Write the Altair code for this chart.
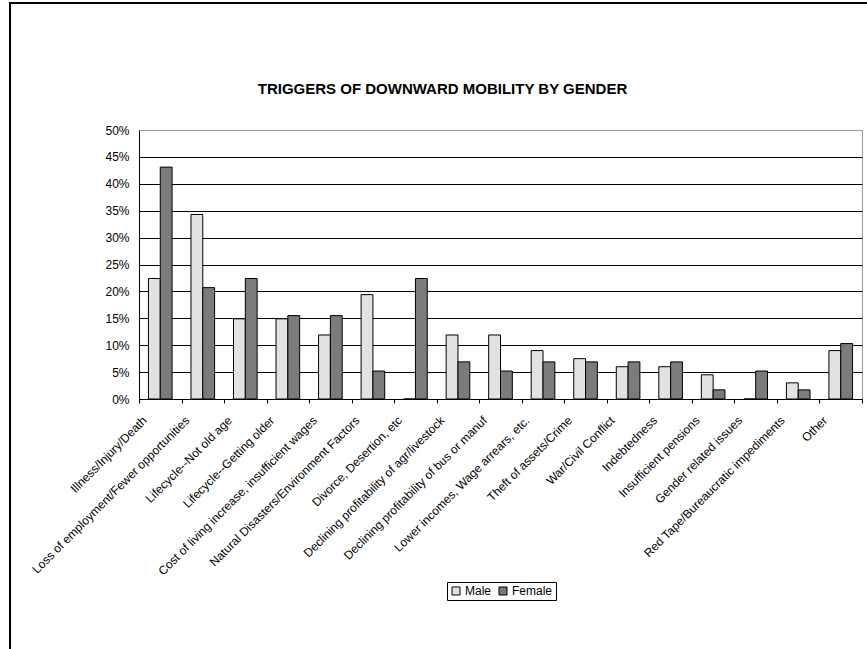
import altair as alt
import pandas as pd

# Triggers of downward mobility, share of respondents by gender (%)
categories = [
    "Illness/Injury/Death",
    "Loss of employment/Fewer opportunities",
    "Lifecycle--Not old age",
    "Lifecycle--Getting older",
    "Cost of living increase, insufficient wages",
    "Natural Disasters/Environment Factors",
    "Divorce, Desertion, etc",
    "Declining profitability of agr/livestock",
    "Declining profitability of bus or manuf",
    "Lower incomes, Wage arrears, etc.",
    "Theft of assets/Crime",
    "War/Civil Conflict",
    "Indebtedness",
    "Insufficient pensions",
    "Gender related issues",
    "Red Tape/Bureaucratic impediments",
    "Other",
]
male = [22.4, 34.3, 14.9, 14.9, 11.9, 19.4, 0.0, 11.9, 11.9, 9.0, 7.5, 6.0, 6.0, 4.5, 0.0, 3.0, 9.0]
female = [43.1, 20.7, 22.4, 15.5, 15.5, 5.2, 22.4, 6.9, 5.2, 6.9, 6.9, 6.9, 6.9, 1.7, 5.2, 1.7, 10.3]
genders = ["Male", "Female"]
y_ticks = [0, 5, 10, 15, 20, 25, 30, 35, 40, 45, 50]

rows = []
for cat, m, f in zip(categories, male, female):
    rows.append({"trigger": cat, "gender": "Male", "share": m / 100})
    rows.append({"trigger": cat, "gender": "Female", "share": f / 100})
df = pd.DataFrame(rows)

FONT = "Liberation Sans"

bars = alt.Chart(df).mark_bar(stroke="black", strokeWidth=1).encode(
    x=alt.X(
        "trigger:N",
        sort=categories,
        scale=alt.Scale(paddingInner=0, paddingOuter=0),
        axis=alt.Axis(
            title=None,
            labelAngle=-45,
            labelAlign="right",
            labelBaseline="middle",
            labelOffset=-16,
            labelPadding=15,
            labelLimit=400,
            labelFontSize=12,
            labelColor="black",
            tickBand="extent",
            tickSize=4,
            tickColor="black",
            domainColor="black",
            grid=False,
        ),
    ),
    xOffset=alt.XOffset(
        "gender:N",
        sort=genders,
        scale=alt.Scale(domain=genders, paddingInner=0, paddingOuter=0.8),
    ),
    y=alt.Y(
        "share:Q",
        scale=alt.Scale(domain=[0, 0.5], nice=False),
        axis=alt.Axis(
            title=None,
            values=[v / 100 for v in y_ticks],
            format=".0%",
            ticks=False,
            labelPadding=10,
            labelFontSize=12,
            labelColor="black",
            domainColor="black",
            gridColor={"condition": {"test": "datum.value >= 0.5", "value": "#999999"}, "value": "#000000"},
            gridWidth=1,
        ),
    ),
    color=alt.Color(
        "gender:N",
        sort=genders,
        scale=alt.Scale(domain=genders, range=["#e2e2e2", "#7b7b7b"]),
        legend=alt.Legend(
            title=None,
            orient="none",
            legendX=308,
            legendY=452,
            direction="horizontal",
            strokeColor="black",
            padding=3,
            symbolType="square",
            symbolSize=64,
            symbolStrokeColor="black",
            symbolStrokeWidth=1,
            symbolOpacity=1,
            labelFontSize=12,
            labelColor="black",
            columnPadding=5,
            labelOffset=3,
        ),
    ),
)

# outer frame of the figure panel
frame_top = alt.Chart(alt.Data(values=[{}])).mark_rule(color="black", strokeWidth=2).encode(
    x=alt.value(-130), x2=alt.value(730), y=alt.value(-127)
)
frame_left = alt.Chart(alt.Data(values=[{}])).mark_rule(color="black", strokeWidth=2).encode(
    x=alt.value(-129), y=alt.value(-128), y2=alt.value(520)
)

chart = (
    alt.layer(bars, frame_top, frame_left)
    .properties(
        width=723,
        height=269,
        autosize=alt.AutoSizeParams(type="none"),
        padding={"left": 139, "top": 130, "right": 5, "bottom": 250},
        background="white",
        title=alt.TitleParams(
            "TRIGGERS OF DOWNWARD MOBILITY BY GENDER",
            font=FONT,
            fontSize=15,
            fontWeight="bold",
            color="black",
            anchor="middle",
            frame="group",
            dx=-58,
            dy=96,
            offset=0,
        ),
    )
    .configure(font=FONT)
    .configure_view(stroke="#999999", strokeWidth=1)
    .configure_axis(labelFont=FONT)
    .configure_legend(labelFont=FONT)
)

chart.save("out.html", embed_options={"renderer": "svg", "actions": False})
